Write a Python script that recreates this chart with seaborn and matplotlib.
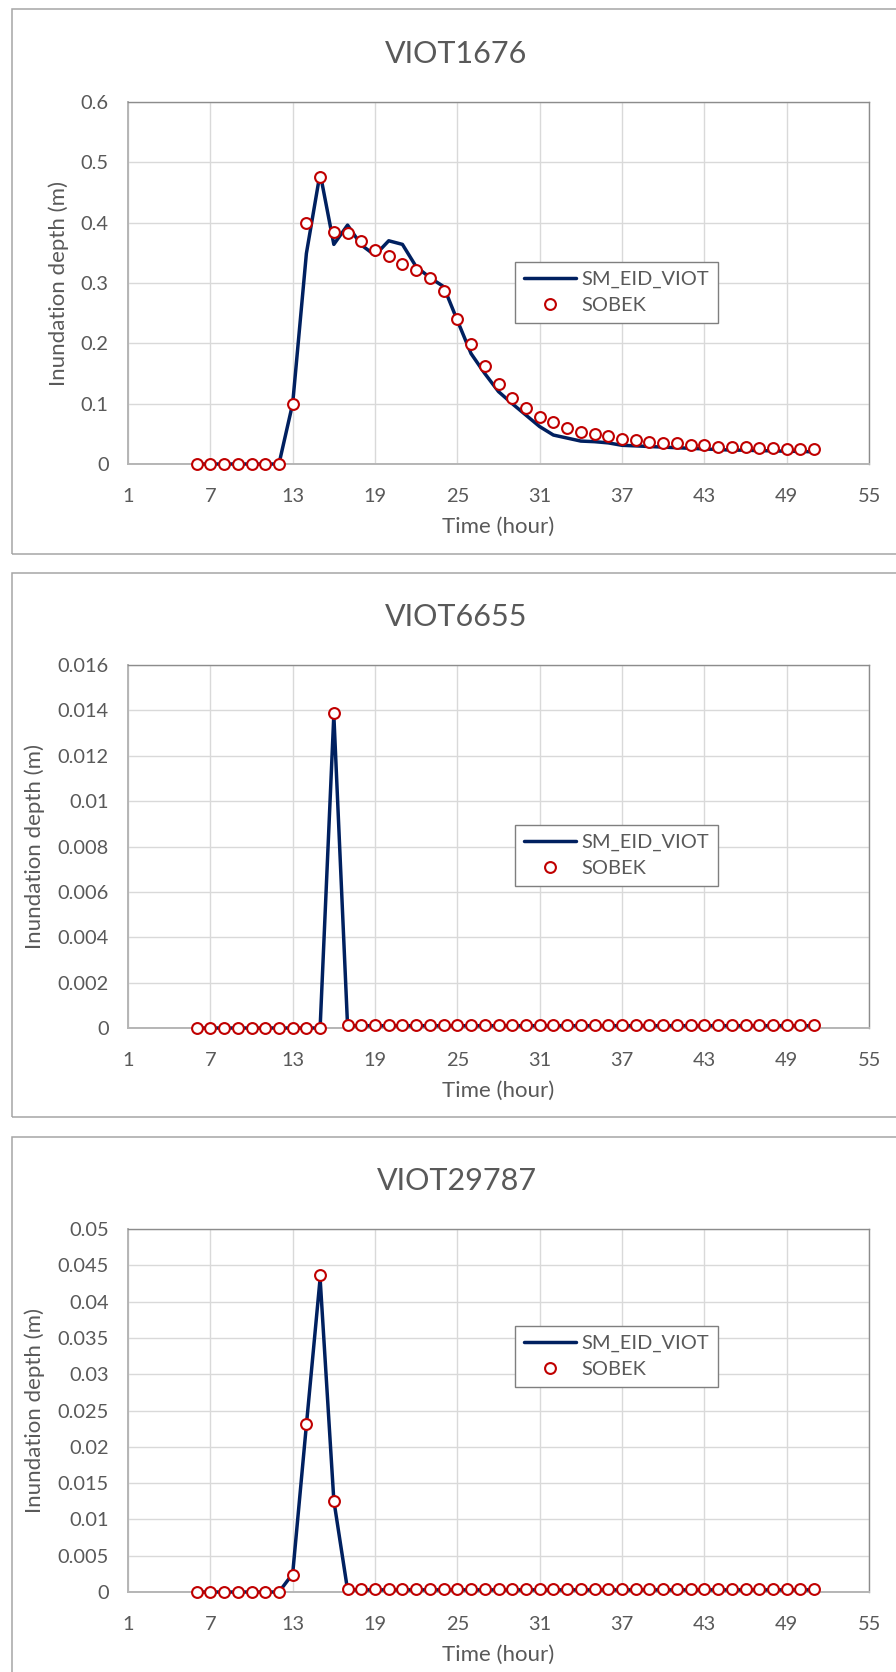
import matplotlib
matplotlib.use("Agg")
import matplotlib.pyplot as plt
from matplotlib.patches import Rectangle
import seaborn as sns
import pandas as pd

sns.set_style("white")
plt.rcParams['font.family'] = ['Lato', 'DejaVu Sans']

# ---------------- data ----------------
hours = [6, 7, 8, 9, 10, 11, 12, 13, 14, 15, 16, 17, 18, 19, 20, 21, 22, 23, 24, 25,
         26, 27, 28, 29, 30, 31, 32, 33, 34, 35, 36, 37, 38, 39, 40, 41, 42, 43, 44, 45,
         46, 47, 48, 49, 50, 51]

titles = ["VIOT1676", "VIOT6655", "VIOT29787"]

viot1676_sm = [0, 0, 0, 0, 0, 0, 0, 0.100, 0.349, 0.482, 0.364, 0.396, 0.363, 0.346, 0.370,
               0.364, 0.327, 0.309, 0.294, 0.238, 0.183, 0.150, 0.120, 0.100, 0.081, 0.062,
               0.048, 0.043, 0.038, 0.037, 0.035, 0.031, 0.030, 0.029, 0.028, 0.027, 0.026,
               0.025, 0.024, 0.023, 0.023, 0.022, 0.022, 0.021, 0.021, 0.020]
viot1676_sobek = [0, 0, 0, 0, 0, 0, 0, 0.100, 0.399, 0.476, 0.385, 0.383, 0.370, 0.355, 0.344,
                  0.332, 0.321, 0.309, 0.286, 0.240, 0.199, 0.162, 0.132, 0.109, 0.092, 0.078,
                  0.069, 0.059, 0.053, 0.049, 0.046, 0.041, 0.040, 0.037, 0.035, 0.034, 0.032,
                  0.031, 0.029, 0.028, 0.028, 0.027, 0.026, 0.025, 0.025, 0.025]

viot6655_sm = [0, 0, 0, 0, 0, 0, 0, 0, 0, 0, 0.0138, 0.0001, 0.0001, 0.0001, 0.0001,
               0.0001, 0.0001, 0.0001, 0.0001, 0.0001, 0.0001, 0.0001, 0.0001, 0.0001, 0.0001,
               0.0001, 0.0001, 0.0001, 0.0001, 0.0001, 0.0001, 0.0001, 0.0001, 0.0001, 0.0001,
               0.0001, 0.0001, 0.0001, 0.0001, 0.0001, 0.0001, 0.0001, 0.0001, 0.0001, 0.0001,
               0.0001]
viot6655_sobek = [0, 0, 0, 0, 0, 0, 0, 0, 0, 0, 0.0139, 0.00015, 0.00015, 0.00015, 0.00015,
                  0.00015, 0.00015, 0.00015, 0.00015, 0.00015, 0.00015, 0.00015, 0.00015,
                  0.00015, 0.00015, 0.00015, 0.00015, 0.00015, 0.00015, 0.00015, 0.00015,
                  0.00015, 0.00015, 0.00015, 0.00015, 0.00015, 0.00015, 0.00015, 0.00015,
                  0.00015, 0.00015, 0.00015, 0.00015, 0.00015, 0.00015, 0.00015]

viot29787_sm = [0, 0, 0, 0, 0, 0, 0, 0.0025, 0.0230, 0.0432, 0.0126, 0.0003, 0.0003, 0.0003,
                0.0003, 0.0003, 0.0003, 0.0003, 0.0003, 0.0003, 0.0003, 0.0003, 0.0003, 0.0003,
                0.0003, 0.0003, 0.0003, 0.0003, 0.0003, 0.0003, 0.0003, 0.0003, 0.0003, 0.0003,
                0.0003, 0.0003, 0.0003, 0.0003, 0.0003, 0.0003, 0.0003, 0.0003, 0.0003, 0.0003,
                0.0003, 0.0003]
viot29787_sobek = [0, 0, 0, 0, 0, 0, 0, 0.0024, 0.0231, 0.0437, 0.0125, 0.0004, 0.0004, 0.0004,
                   0.0004, 0.0004, 0.0004, 0.0004, 0.0004, 0.0004, 0.0004, 0.0004, 0.0004, 0.0004,
                   0.0004, 0.0004, 0.0004, 0.0004, 0.0004, 0.0004, 0.0004, 0.0004, 0.0004, 0.0004,
                   0.0004, 0.0004, 0.0004, 0.0004, 0.0004, 0.0004, 0.0004, 0.0004, 0.0004, 0.0004,
                   0.0004, 0.0004]

x_ticks = [1, 7, 13, 19, 25, 31, 37, 43, 49, 55]
y_ticks_1 = [0, 0.1, 0.2, 0.3, 0.4, 0.5, 0.6]
y_labels_1 = ["0", "0.1", "0.2", "0.3", "0.4", "0.5", "0.6"]
y_ticks_2 = [0, 0.002, 0.004, 0.006, 0.008, 0.01, 0.012, 0.014, 0.016]
y_labels_2 = ["0", "0.002", "0.004", "0.006", "0.008", "0.01", "0.012", "0.014", "0.016"]
y_ticks_3 = [0, 0.005, 0.01, 0.015, 0.02, 0.025, 0.03, 0.035, 0.04, 0.045, 0.05]
y_labels_3 = ["0", "0.005", "0.01", "0.015", "0.02", "0.025", "0.03", "0.035", "0.04",
              "0.045", "0.05"]

series_sm = [viot1676_sm, viot6655_sm, viot29787_sm]
series_sobek = [viot1676_sobek, viot6655_sobek, viot29787_sobek]
yticks_all = [y_ticks_1, y_ticks_2, y_ticks_3]
ylabels_all = [y_labels_1, y_labels_2, y_labels_3]

# ---------------- style ----------------
W, H = 896, 1672
NAVY = "#002060"
RED = "#C00000"
TXT = "#595959"
GRID = "#D9D9D9"

fig = plt.figure(figsize=(W / 100, H / 100), dpi=100)

# panel layout in pixels
ax_left, ax_right = 128, 869
ax_tops = [102, 665, 1229]
ax_bottoms = [464, 1028, 1592]
box_tops = [9.5, 573, 1137]
box_bottoms = [554, 1117, 1760]
legend_tops = [160, 160, 97]      # px below axes top
ylabel_x = [-69.3, -93.0, -93.0]  # px left of axes

for i in range(3):
    # outer chart box
    bt, bb = box_tops[i], box_bottoms[i]
    fig.add_artist(Rectangle((12 / W, 1 - bb / H), 1.2, (bb - bt) / H,
                             transform=fig.transFigure, fill=False,
                             ec="#A6A6A6", lw=1.1))

    top, bot = ax_tops[i], ax_bottoms[i]
    ax = fig.add_axes([ax_left / W, 1 - bot / H, (ax_right - ax_left) / W, (bot - top) / H])

    df = pd.DataFrame({"hour": hours, "sm": series_sm[i], "sobek": series_sobek[i]})
    sns.lineplot(data=df, x="hour", y="sm", ax=ax, color=NAVY, lw=2.5,
                 label="SM_EID_VIOT", zorder=3, clip_on=False)
    sns.lineplot(data=df, x="hour", y="sobek", ax=ax, color=RED, linestyle="",
                 marker="o", markersize=7.8, markerfacecolor="white",
                 markeredgecolor=RED, markeredgewidth=1.5,
                 label="SOBEK", zorder=4, clip_on=False)

    yt = yticks_all[i]
    ax.set_xlim(1, 55)
    ax.set_ylim(yt[0], yt[-1])
    ax.set_xticks(x_ticks)
    ax.set_xticklabels([str(v) for v in x_ticks])
    ax.set_yticks(yt)
    ax.set_yticklabels(ylabels_all[i])
    ax.tick_params(axis="both", length=0, labelsize=14.4, labelcolor=TXT)
    ax.tick_params(axis="x", pad=17)
    ax.tick_params(axis="y", pad=14)
    ax.grid(True, color=GRID, lw=1.0)
    ax.set_axisbelow(True)

    for s in ["top", "right"]:
        ax.spines[s].set_color("#8C8C8C")
        ax.spines[s].set_linewidth(1.0)
    for s in ["left", "bottom"]:
        ax.spines[s].set_color("#B5B5B5")
        ax.spines[s].set_linewidth(1.4)

    ax.set_xlabel("Time (hour)", fontsize=16, color=TXT)
    ax.xaxis.set_label_coords(0.5, -53 / (bot - top))
    ax.set_ylabel("Inundation depth (m)", fontsize=16, color=TXT)
    ax.yaxis.label.set_va("center")
    ax.yaxis.set_label_coords(ylabel_x[i] / (ax_right - ax_left), 0.5)

    fig.text(456.5 / W, 1 - (top - 39) / H, titles[i], fontsize=22, color=TXT,
             ha="center", va="baseline")

    leg = ax.legend(loc="upper left",
                    bbox_to_anchor=(0.522, 1 - legend_tops[i] / (bot - top)),
                    borderaxespad=0, fontsize=14.4, frameon=True, fancybox=False,
                    framealpha=1, edgecolor="#7F7F7F", borderpad=0.45,
                    handlelength=2.6, handletextpad=0.3, labelspacing=0.45)
    leg.get_frame().set_linewidth(1.0)
    for t in leg.get_texts():
        t.set_color(TXT)

fig.savefig("out.png", dpi=100)
